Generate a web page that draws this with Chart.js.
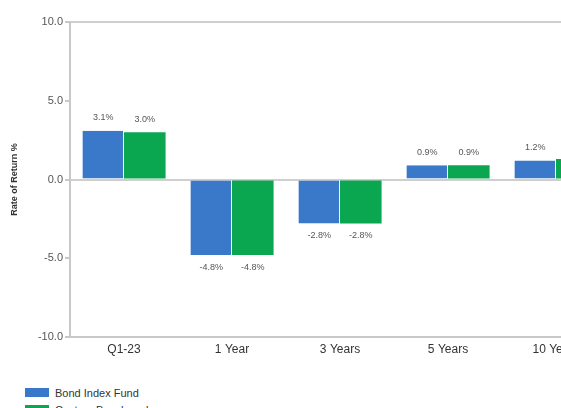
<!DOCTYPE html>
<html>
<head>
<meta charset="utf-8">
<script src="https://cdn.jsdelivr.net/npm/chart.js@4"></script>
<style>
  html, body { margin: 0; padding: 0; background: #fff; overflow: hidden; }
  #wrap { position: absolute; left: 0; top: 0; width: 614px; height: 362px; }
  #legend { position: absolute; left: 25px; top: 384px; font-family: "Liberation Sans", Arial, sans-serif; font-size: 11px; color: #333; }
  .item { display: flex; align-items: center; height: 17px; }
  .box { width: 24px; height: 9px; margin-right: 6px; }
</style>
</head>
<body>
<div id="wrap"><canvas id="c" width="614" height="362"></canvas></div>
<div id="legend"></div>
<script>
const categories = ["Q1-23", "1 Year", "3 Years", "5 Years", "10 Years"];
const fundValues = [3.1, -4.8, -2.8, 0.9, 1.2];
const benchmarkValues = [3.0, -4.8, -2.8, 0.9, 1.3];
const seriesNames = ["Bond Index Fund", "Custom Benchmark"];
const seriesColors = ["#3a78c9", "#0aa650"];
const yTicks = [-10, -5, 0, 5, 10];

const valueLabels = {
  id: 'valueLabels',
  afterDatasetsDraw(chart) {
    const ctx = chart.ctx;
    ctx.save();
    ctx.font = '9px "Liberation Sans", Arial, sans-serif';
    ctx.fillStyle = '#555';
    ctx.textAlign = 'center';
    ctx.textBaseline = 'middle';
    chart.data.datasets.forEach((ds, i) => {
      chart.getDatasetMeta(i).data.forEach((bar, j) => {
        const v = ds.data[j];
        const y = v >= 0 ? bar.y - 13 : bar.y + 12;
        ctx.fillText(v.toFixed(1) + '%', bar.x, y);
      });
    });
    ctx.restore();
  }
};

const chart = new Chart(document.getElementById('c'), {
  type: 'bar',
  data: {
    labels: categories,
    datasets: [
      { label: seriesNames[0], data: fundValues, backgroundColor: seriesColors[0], borderColor: '#ffffff', borderWidth: {left: 0, right: 1, top: 0, bottom: 0}, borderSkipped: false },
      { label: seriesNames[1], data: benchmarkValues, backgroundColor: seriesColors[1], borderColor: '#ffffff', borderWidth: 0 }
    ]
  },
  options: {
    responsive: false,
    animation: false,
    devicePixelRatio: 1,
    categoryPercentage: 0.77,
    barPercentage: 1.0,
    layout: { padding: { top: 22, right: 4, left: 0, bottom: 0 } },
    plugins: { legend: { display: false }, tooltip: { enabled: false } },
    scales: {
      x: {
        grid: { display: false, drawTicks: false },
        border: { display: true, color: '#c8c8c8', width: 2 },
        ticks: { color: '#333', font: { family: '"Liberation Sans", Arial, sans-serif', size: 12 }, padding: 5, maxRotation: 0 },
        afterFit(s) { s.height = 25; }
      },
      y: {
        min: -10, max: 10,
        afterBuildTicks(s) { s.ticks = yTicks.map(v => ({ value: v })); },
        grid: {
          color: c => (c.tick && (c.tick.value === 0 || c.tick.value === 10)) ? '#cfcfcf' : 'rgba(0,0,0,0)',
          lineWidth: 2,
          tickColor: '#c8c8c8',
          tickLength: 5,
          drawTicks: true
        },
        border: { display: true, color: '#c8c8c8', width: 2 },
        ticks: {
          color: '#555',
          font: { family: '"Liberation Sans", Arial, sans-serif', size: 11 },
          padding: 2,
          callback: v => v.toFixed(1)
        },
        title: {
          display: true,
          text: 'Rate of Return %',
          color: '#333',
          font: { family: '"Liberation Sans", Arial, sans-serif', size: 9, weight: 'bold' },
          padding: { top: 9, bottom: 0 }
        },
        afterFit(s) { s.width = 70; }
      }
    }
  },
  plugins: [valueLabels]
});

const legend = document.getElementById('legend');
chart.data.datasets.forEach(ds => {
  const item = document.createElement('div');
  item.className = 'item';
  const box = document.createElement('span');
  box.className = 'box';
  box.style.background = ds.backgroundColor;
  const t = document.createElement('span');
  t.textContent = ds.label;
  item.appendChild(box);
  item.appendChild(t);
  legend.appendChild(item);
});
</script>
</body>
</html>
